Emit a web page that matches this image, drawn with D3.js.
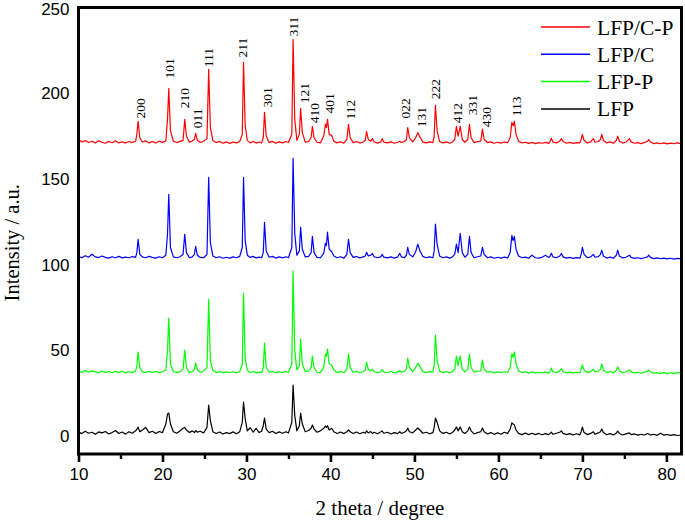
<!DOCTYPE html>
<html>
<head>
<meta charset="utf-8">
<script src="https://cdn.jsdelivr.net/npm/d3@7/dist/d3.min.js"></script>
<style>
  html, body { margin: 0; padding: 0; background: #fff; }
  svg { display: block; }
</style>
</head>
<body>
<svg id="chart" width="685" height="523"></svg>
<script>
// ---- DATA ----
const seriesNames = ["LFP/C-P", "LFP/C", "LFP-P", "LFP"];
const seriesColors = ["#ff0000", "#0000ff", "#00ff00", "#000000"];

// 2 theta (degree) sampling positions, shared by every pattern
const twoTheta = [
  10, 10.4, 10.8, 11.2, 11.6, 12.0, 12.4, 12.8, 13.2, 13.6, 14.0, 14.4, 14.8, 15.2, 15.6, 16.0, 16.4, 16.8,
  16.95, 17.1, 17.3, 17.6, 18.0, 18.4, 18.8, 19.2, 19.6, 20.0, 20.4,
  20.6, 20.75, 20.95, 21.3, 21.7, 22.1, 22.45,
  22.65, 22.85, 23.2, 23.55, 23.8, 23.95, 24.15, 24.5, 24.9, 25.3,
  25.5, 25.7, 26.0, 26.4, 26.8, 27.2, 27.6, 28.0, 28.4, 28.8, 29.2, 29.5,
  29.65, 29.85, 30.1, 30.45, 30.8, 31.15, 31.5, 31.8, 32.0,
  32.15, 32.35, 32.7, 33.1, 33.5, 33.9, 34.3, 34.7, 35.0, 35.4,
  35.55, 35.75, 36.0, 36.3, 36.45, 36.65, 37.0, 37.4, 37.7, 37.85, 38.05, 38.4, 38.8, 39.2,
  39.4, 39.52, 39.65, 39.85, 40.15, 40.4, 40.8, 41.2, 41.6, 41.95, 42.15, 42.35, 42.7, 43.1, 43.5, 43.9, 44.15,
  44.3, 44.5, 44.8, 45.0, 45.2, 45.6, 46.0, 46.15, 46.35, 46.8, 47.2, 47.6, 48.0, 48.25, 48.45, 48.8, 49.05,
  49.2, 49.4, 49.8, 50.15, 50.4, 50.65, 51.0, 51.4, 51.8, 52.2, 52.35,
  52.5, 52.7, 53.0, 53.4, 53.8, 54.2, 54.5, 54.8,
  55.0, 55.2, 55.45, 55.7, 56.0, 56.35, 56.55, 56.75, 57.1, 57.5, 57.9, 58.1, 58.3, 58.7, 59.1, 59.5, 59.9, 60.3, 60.7, 61.1, 61.4,
  61.6, 61.75, 61.9, 62.1, 62.4, 62.8, 63.2, 63.6, 64.0, 64.4, 64.8, 65.2, 65.6, 66.0, 66.15,
  66.3, 66.5, 66.9, 67.3, 67.5, 67.7, 68.1, 68.5, 68.9, 69.3, 69.7, 69.85, 70.0, 70.2, 70.6, 71.0, 71.3, 71.5, 71.9, 72.15, 72.3, 72.5, 72.9, 73.3, 73.7, 74.05, 74.2, 74.4, 74.8, 75.2, 75.6, 75.8, 76.2, 76.6, 77.0, 77.4, 77.75, 77.9, 78.1, 78.5, 78.9, 79.3, 79.7, 80.1, 80.5, 80.9, 81.3, 81.8
];

const intensityLFPCP = [
  172.8, 171.6, 172.4, 171.2, 172.0, 171.0, 172.2, 171.4, 170.8, 171.9, 171.1, 172.3, 171.0, 171.7, 170.9, 171.8, 171.2, 172.0,
  176, 183.6, 174, 171.5, 172.2, 171.0, 171.8, 170.9, 172.0, 171.3, 172.1,
  185, 202.8, 178, 172.0, 171.2, 171.9, 172.5,
  184.7, 175, 171.4, 172.1, 173, 176.6, 172.5, 171.2, 172.0, 173.5,
  213.9, 180, 172.3, 171.2, 171.9, 170.8, 171.6, 170.7, 171.5, 171.0, 171.8, 176,
  218.0, 181, 172.5, 171.0, 171.8, 170.9, 171.5, 171.0, 174,
  188.8, 175, 171.3, 171.9, 170.8, 171.6, 171.0, 171.8, 171.2, 176,
  231.4, 185, 172.5, 176, 191.2, 177, 171.5, 171.8, 174, 180.7, 174, 171.4, 171.0, 175,
  181.8, 180, 184.7, 176, 175.4, 172, 171.0, 171.7, 170.9, 173, 181.8, 174, 171.2, 171.8, 170.9, 171.5, 172.5,
  177.8, 173, 172, 173.5, 171.5, 170.9, 171.6, 173.5, 171.5, 171.0, 171.6, 170.8, 171.4, 172.0, 171.3, 171.8, 173,
  180, 174, 171.6, 174, 177, 174.5, 171.5, 171.0, 171.6, 171.2, 175,
  192.9, 178, 171.8, 171.0, 171.6, 170.8, 171.5, 173,
  180.7, 175, 180.7, 173, 171.4, 173, 181.8, 174, 171.2, 171.8, 172, 179, 173, 171.2, 171.6, 170.8, 171.4, 170.9, 171.5, 171.2, 174,
  183, 181, 183.6, 176, 172, 171.0, 171.4, 170.7, 171.3, 170.6, 171.2, 170.8, 171.3, 170.7, 171.8,
  173.7, 171.5, 171.0, 172, 173.5, 171.8, 170.8, 171.3, 170.7, 171.2, 171.0, 173, 176, 172.5, 171.0, 171.6, 173.5, 171.4, 171.8, 173, 176, 172.4, 171.0, 171.6, 170.8, 172.5, 175, 172, 170.9, 171.5, 173.5, 171.6, 170.8, 171.2, 170.6, 171.3, 171.8, 173, 171.5, 170.6, 171.0, 170.5, 171.0, 170.4, 170.9, 170.5, 171.0, 170.6
];

const intensityLFPC = [
  104.8, 104.0, 105.2, 104.3, 106.0, 104.5, 104.1, 105.0, 104.2, 103.8, 104.6, 104.0, 104.8, 103.9, 104.4, 104.0, 104.7, 104.2,
  107, 114.8, 106, 104.5, 104.0, 104.8, 104.2, 103.8, 104.6, 104.0, 105.5,
  118, 141, 110, 104.5, 104.0, 104.6, 106,
  117.7, 107, 104.0, 104.5, 106, 110.7, 105.5, 104.2, 104.0, 106,
  150.9, 113, 105.0, 104.0, 104.6, 103.7, 104.3, 103.8, 104.5, 104.0, 104.8, 110,
  150.9, 114, 105.5, 104.2, 104.8, 103.9, 104.4, 104.0, 107,
  124.7, 108, 104.3, 104.8, 103.8, 104.5, 103.9, 104.6, 104.0, 110,
  162, 118, 105.5, 108, 121.8, 109, 104.5, 104.8, 107, 116.5, 107, 104.2, 104.0, 106.5,
  112.5, 111, 118.9, 109, 107.5, 105, 104.0, 104.6, 103.8, 106, 114.8, 107, 104.2, 104.7, 103.9, 104.5, 105,
  107.2, 105, 105.5, 106.5, 104.6, 104.0, 104.5, 106, 104.4, 103.9, 104.5, 103.8, 104.4, 106.6, 104.5, 104.0, 105.5,
  110, 106, 104.5, 107.5, 111.9, 108, 104.8, 104.0, 104.5, 104.0, 108,
  123.6, 112, 105, 104.0, 104.5, 103.8, 104.4, 106,
  112, 107, 118.3, 107, 104.3, 106, 116.5, 107, 104.0, 104.6, 105, 110, 106, 104.0, 104.5, 103.7, 104.3, 103.8, 104.4, 103.9, 107,
  117, 114, 116.5, 109, 105, 104.0, 104.4, 103.7, 105.5, 104.0, 103.8, 104.3, 105.5, 104.2, 105,
  106.6, 104.5, 104.0, 105, 106.5, 104.5, 103.8, 104.2, 103.6, 104.1, 103.8, 106, 110, 106, 104.0, 104.5, 106, 104.3, 104.6, 106, 108.4, 105, 103.8, 104.4, 103.7, 105.5, 108.4, 105, 103.9, 104.3, 105.5, 104.2, 103.6, 104.0, 103.5, 104.0, 104.5, 105.5, 104.2, 103.5, 103.9, 103.4, 103.8, 103.3, 103.7, 103.2, 103.6, 103.4
];

const intensityLFPP = [
  37.8, 37.0, 38.3, 37.2, 38.0, 37.4, 36.8, 37.9, 37.1, 37.6, 36.9, 37.7, 37.0, 37.8, 36.7, 37.5, 37.0, 37.9,
  41, 49, 40, 37.4, 37.0, 37.8, 37.1, 37.6, 36.8, 37.5, 38.5,
  50, 68.8, 42, 37.5, 37.0, 37.6, 39,
  50.1, 40, 37.0, 37.6, 39, 42.5, 38.5, 37.2, 37.8, 40,
  79.8, 44, 38.2, 37.0, 37.6, 36.8, 37.4, 36.9, 37.5, 36.8, 37.6, 42,
  83.3, 45, 38.5, 37.0, 37.6, 36.8, 37.3, 37.0, 40,
  54.2, 40, 37.2, 37.7, 36.8, 37.4, 36.9, 37.6, 37.2, 42,
  96.2, 50, 38.5, 41, 56.5, 42, 37.5, 37.8, 40, 46.6, 40, 37.2, 37.0, 40,
  47.8, 46.5, 50.7, 42, 41.4, 38.5, 37.0, 37.6, 36.9, 39, 47.8, 40, 37.2, 37.7, 36.9, 37.5, 38.5,
  43.1, 39, 38.0, 39, 37.5, 36.9, 37.5, 38.8, 37.4, 36.9, 37.6, 36.8, 37.4, 38, 37.2, 37.8, 39,
  45.4, 40, 37.6, 40, 42.5, 40.5, 37.6, 37.0, 37.6, 37.2, 41,
  58.9, 44, 37.8, 37.0, 37.6, 36.8, 37.5, 39,
  46.6, 41, 46.6, 39, 37.4, 39, 47.8, 40, 37.2, 37.8, 38, 44.3, 39, 37.2, 37.6, 36.8, 37.4, 36.9, 37.5, 37.2, 40,
  48, 46, 49, 42, 38, 37.0, 37.4, 36.7, 37.5, 36.8, 37.2, 36.8, 37.3, 36.7, 37.8,
  39.6, 37.5, 37.0, 38, 39.4, 37.6, 36.8, 37.3, 36.7, 37.2, 37.0, 39, 41.4, 38.5, 37.0, 37.6, 39, 37.4, 37.8, 39, 42, 38.4, 37.0, 37.6, 36.8, 38.5, 40.2, 38, 36.9, 37.5, 38.5, 37.4, 36.8, 37.2, 36.6, 37.3, 37.8, 38.5, 37.4, 36.6, 37.0, 36.5, 37.0, 36.4, 36.9, 36.5, 37.0, 36.6
];

const intensityLFP = [
  2.5, 1.4, 2.8, 1.6, 2.2, 1.0, 2.4, 1.8, 2.6, 1.2, 2.0, 3.2, 1.5, 2.3, 1.1, 2.5, 1.6, 3.0,
  4, 5.2, 2.5, 3.5, 5.0, 2.0, 2.8, 1.5, 2.6, 2.0, 7,
  12.8, 13.4, 7, 2.5, 1.6, 3.0, 4.5,
  5.0, 3.5, 2.0, 3.0, 2.0, 3.2, 2.2, 2.8, 1.8, 5,
  18, 9, 2.5, 1.5, 2.3, 1.2, 2.0, 1.4, 2.4, 1.3, 2.5, 8,
  19.8, 10, 3, 4.8, 2.2, 4.5, 2.0, 2.8, 6,
  10.5, 4, 2.0, 2.8, 1.5, 2.4, 1.6, 2.5, 1.8, 8,
  29.7, 12, 3, 6, 13.4, 7, 2.5, 3.2, 4.5, 6.4, 4, 2.2, 3.0, 4.5,
  5.8, 5, 6, 3.5, 4.5, 2.5, 1.5, 2.3, 1.4, 2.5, 3.5, 2.5, 1.5, 2.3, 1.3, 2.2, 1.6,
  3, 1.8, 2.6, 1.5, 2.2, 1.3, 2.5, 3, 1.6, 2.2, 1.2, 2.0, 1.4, 2.5, 1.5, 2.2, 3,
  4.7, 2.5, 1.8, 3.5, 4.7, 3.5, 1.6, 2.2, 1.3, 2.0, 5,
  10.5, 8, 3, 1.5, 2.2, 1.2, 2.0, 3.5,
  5.2, 3, 5.2, 2.5, 1.5, 3, 5.2, 3, 1.2, 2.0, 2.5, 4.7, 2.5, 1.2, 2.0, 1.0, 1.8, 1.0, 2.2, 1.5, 4,
  7.6, 7, 6.5, 3.5, 1.5, 0.8, 1.8, 0.8, 1.6, 0.8, 1.5, 0.7, 1.4, 0.8, 1.5,
  2.2, 1.0, 1.6, 2.2, 3.0, 1.5, 0.8, 1.4, 0.6, 1.3, 0.7, 2.5, 5.2, 2.0, 0.8, 1.5, 2.5, 1.0, 1.8, 2.5, 4.1, 2.0, 0.7, 1.4, 0.6, 1.8, 2.9, 1.5, 0.6, 1.2, 1.8, 0.8, 1.2, 0.5, 1.0, 0.6, 1.5, 1.2, 0.6, 1.0, 0.4, 1.6, 0.5, 0.9, 0.4, 0.8, 0.3, 0.6
];

// Miller-index labels above the LFP/C-P peaks: 2theta and intensity of each label's foot
const peakLabels = ["200", "101", "210", "011", "111", "211", "301", "311", "121", "410", "401", "112", "022", "131", "222", "412", "331", "430", "113"];
const peakLabelTheta = [17.4, 20.75, 22.65, 24.2, 25.45, 29.55, 32.45, 35.6, 36.85, 38.1, 39.9, 42.3, 48.85, 50.8, 52.5, 55.1, 56.85, 58.6, 62.1];
const peakLabelIntensity = [185.3, 208.6, 191.2, 179.5, 215.1, 220.9, 191.7, 233.1, 194.1, 182.4, 188.2, 184.7, 185.3, 180.1, 196.4, 182.4, 187.1, 180.1, 186.5];

const xMajorTicks = [10, 20, 30, 40, 50, 60, 70, 80];
const xMinorTicks = [15, 25, 35, 45, 55, 65, 75];
const yTicks = [0, 50, 100, 150, 200, 250];

// ---- CHART ----
const seriesValues = [intensityLFPCP, intensityLFPC, intensityLFPP, intensityLFP];

const svg = d3.select("#chart");
const pLeft = 78.5, pRight = 681.5, pTop = 7.5, pBottom = 454;
const x = d3.scaleLinear().domain([10, 81.8]).range([pLeft, pRight]);
const y = d3.scaleLinear().domain([-10.5, 250]).range([pBottom, pTop]);

const SERIF = "'Liberation Serif', 'Times New Roman', serif";
const SANS = "'Liberation Sans', Arial, sans-serif";

svg.append("defs").append("clipPath").attr("id", "clip")
  .append("rect").attr("x", pLeft).attr("y", pTop).attr("width", pRight - pLeft).attr("height", pBottom - pTop);

const line = d3.line().x(d => x(d[0])).y(d => y(d[1]));
const plot = svg.append("g").attr("clip-path", "url(#clip)");
for (let s = seriesValues.length - 1; s >= 0; s--) {
  const pts = twoTheta.map((t, i) => [t, seriesValues[s][i]]);
  plot.append("path").datum(pts)
    .attr("d", line)
    .attr("fill", "none")
    .attr("stroke", seriesColors[s])
    .attr("stroke-width", 1.2)
    .attr("stroke-linejoin", "round");
}

// peak labels
const lab = svg.append("g");
peakLabels.forEach((t, i) => {
  const px = x(peakLabelTheta[i]), py = y(peakLabelIntensity[i]);
  lab.append("text")
    .attr("transform", `translate(${px},${py}) rotate(-90)`)
    .attr("dy", "0.35em")
    .attr("font-family", SERIF)
    .attr("font-size", 13.5)
    .attr("fill", "#000")
    .text(t);
});

// x axis (major + minor)
const xMajor = d3.axisBottom(x).tickValues(xMajorTicks).tickSize(8).tickPadding(6).tickSizeOuter(0).tickFormat(d3.format("d"));
const gx = svg.append("g").attr("transform", `translate(0,${pBottom})`).call(xMajor);
gx.select(".domain").remove();
gx.selectAll("line").attr("stroke", "#000").attr("stroke-width", 2.6);
gx.selectAll("text").attr("font-family", SANS).attr("font-size", 17).attr("fill", "#000");

const xMinor = d3.axisBottom(x).tickValues(xMinorTicks).tickSize(5).tickSizeOuter(0).tickFormat("");
const gxm = svg.append("g").attr("transform", `translate(0,${pBottom})`).call(xMinor);
gxm.select(".domain").remove();
gxm.selectAll("line").attr("stroke", "#000").attr("stroke-width", 2.4);

// y axis labels only
const yAxis = d3.axisLeft(y).tickValues(yTicks).tickSize(0).tickPadding(9).tickSizeOuter(0);
const gy = svg.append("g").attr("transform", `translate(${pLeft},0)`).call(yAxis);
gy.select(".domain").remove();
gy.selectAll("text").attr("font-family", SANS).attr("font-size", 17).attr("fill", "#000");
gy.selectAll("text").filter(d => d === 250).attr("dy", "0.42em");

// frame
svg.append("rect")
  .attr("x", pLeft).attr("y", pTop).attr("width", pRight - pLeft).attr("height", pBottom - pTop)
  .attr("fill", "none").attr("stroke", "#000").attr("stroke-width", 3);

// axis titles
svg.append("text")
  .attr("x", (pLeft + pRight) / 2).attr("y", 515)
  .attr("text-anchor", "middle")
  .attr("font-family", SERIF).attr("font-size", 21).attr("fill", "#000")
  .text("2 theta / degree");

svg.append("text")
  .attr("transform", `translate(19,${(pTop + pBottom) / 2 + 12}) rotate(-90)`)
  .attr("text-anchor", "middle")
  .attr("font-family", SERIF).attr("font-size", 20.5).attr("fill", "#000")
  .text("Intensity / a.u.");

// legend
const legend = svg.append("g");
seriesNames.forEach((name, i) => {
  const ly = 27 + i * 27.3;
  legend.append("line")
    .attr("x1", 541).attr("x2", 590).attr("y1", ly).attr("y2", ly)
    .attr("stroke", seriesColors[i]).attr("stroke-width", 1.5);
  legend.append("text")
    .attr("x", 597).attr("y", ly).attr("dy", "0.35em")
    .attr("font-family", SERIF).attr("font-size", 21.5).attr("fill", "#000")
    .text(name);
});
</script>
</body>
</html>
